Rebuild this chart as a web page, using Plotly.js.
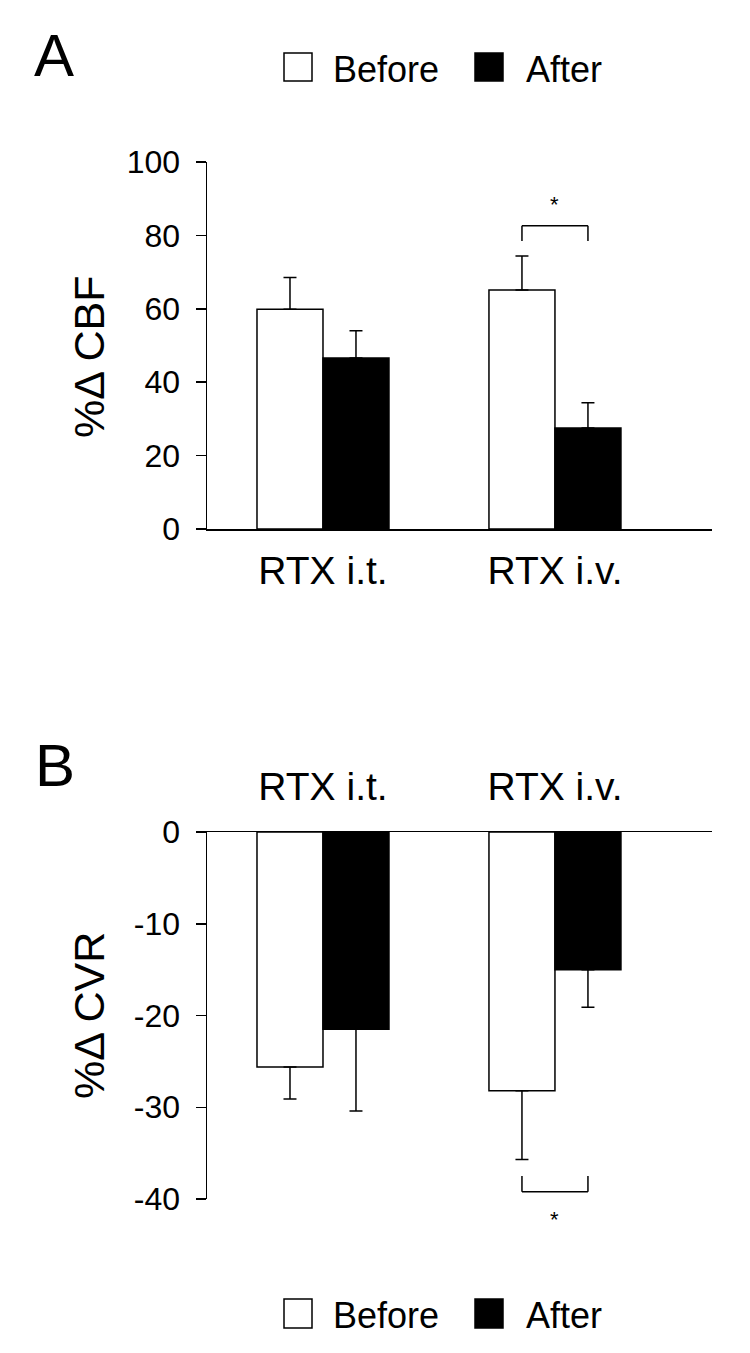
<!DOCTYPE html>
<html><head><meta charset="utf-8">
<script src="https://cdn.plot.ly/plotly-3.0.1.min.js"></script>
<style>html,body{margin:0;padding:0;background:#fff}</style>
</head><body><div id="chart" style="width:750px;height:1353px"></div>
<script>
// ---- data ----
const categories = ['RTX i.t.', 'RTX i.v.'];
const seriesNames = ['Before', 'After'];
const cbfBefore = [59.9, 65.1];
const cbfBeforeErr = [8.6, 9.3];
const cbfAfter = [46.6, 27.5];
const cbfAfterErr = [7.4, 6.9];
const cvrBefore = [-25.6, -28.2];
const cvrBeforeErr = [3.5, 7.5];
const cvrAfter = [-21.5, -15.0];
const cvrAfterErr = [8.9, 4.1];
const cbfTicks = [0, 20, 40, 60, 80, 100];
const cbfTickLabels = ['0', '20', '40', '60', '80', '100'];
const cvrTicks = [-40, -30, -20, -10, 0];
const cvrTickLabels = ['-40', '-30', '-20', '-10', '0'];
const axisTitles = ['%\u0394 CBF', '%\u0394 CVR'];
const panelLabels = ['A', 'B'];
// significance: category index, bracket levels, star level
const sigCBF = {cat: 1, line: 82.6, leg: 78.5, star: 88.3};
const sigCVR = {cat: 1, line: -39.2, leg: -37.5, star: -42.2};

// ---- layout helpers ----
const W = 750, H = 1353;
const px = x => x / W;
const py = y => 1 - y / H;
const FONT = 'Liberation Sans, Arial, Helvetica, sans-serif';
const bargap = 0.431;
const half = (1 - bargap) / 4; // offset of each bar center from category center
const zeros = categories.map(() => 0);
const xrange = [-0.5, 1.677];
const xdom = [px(207), px(712)];
const yRangeA = [0, 100], yRangeB = [-40, 0];

const barStyle = (fill) => ({color: fill, line: {color: '#000', width: 1.5}});
const errStyle = {type: 'data', symmetric: false, color: '#000', thickness: 1.5, width: 6.5};

const traces = [
  {type: 'bar', x: categories, y: cbfBefore, name: seriesNames[0], marker: barStyle('#fff'),
   error_y: Object.assign({array: cbfBeforeErr, arrayminus: zeros}, errStyle), xaxis: 'x', yaxis: 'y', showlegend: false},
  {type: 'bar', x: categories, y: cbfAfter, name: seriesNames[1], marker: barStyle('#000'),
   error_y: Object.assign({array: cbfAfterErr, arrayminus: zeros}, errStyle), xaxis: 'x', yaxis: 'y', showlegend: false},
  {type: 'bar', x: categories, y: cvrBefore, name: seriesNames[0], marker: barStyle('#fff'),
   error_y: Object.assign({array: zeros, arrayminus: cvrBeforeErr}, errStyle), xaxis: 'x2', yaxis: 'y2', showlegend: false},
  {type: 'bar', x: categories, y: cvrAfter, name: seriesNames[1], marker: barStyle('#000'),
   error_y: Object.assign({array: zeros, arrayminus: cvrAfterErr}, errStyle), xaxis: 'x2', yaxis: 'y2', showlegend: false}
];

const yCommon = {
  showline: true, linecolor: '#000', linewidth: 1.5, ticks: 'outside', ticklen: 10, tickwidth: 1.5,
  tickcolor: '#000', showgrid: false, zeroline: false, tickmode: 'array',
  tickfont: {family: FONT, size: 32, color: '#000'}, ticklabelstandoff: 9
};
const xCommon = {
  type: 'category', range: xrange, domain: xdom, showline: true, linecolor: '#000', linewidth: 1.5,
  ticks: '', showgrid: false, zeroline: false, tickfont: {family: FONT, size: 39, color: '#000'}
};

const shapes = [];
const annotations = [];
function bracket(xa, ya, s, yr) {
  const x0 = s.cat - half, x1 = s.cat + half;
  const base = {type: 'line', xref: xa, yref: ya, line: {color: '#000', width: 1.5}};
  shapes.push(Object.assign({x0: x0, x1: x1, y0: s.line, y1: s.line}, base));
  shapes.push(Object.assign({x0: x0, x1: x0, y0: s.line, y1: s.leg}, base));
  shapes.push(Object.assign({x0: x1, x1: x1, y0: s.line, y1: s.leg}, base));
  // star placed in axis-domain fraction so it can sit outside the value range
  annotations.push({xref: xa, yref: ya + ' domain', x: s.cat, y: (s.star - yr[0]) / (yr[1] - yr[0]),
    text: '*', showarrow: false, font: {family: FONT, size: 22, color: '#000'}, xanchor: 'center', yanchor: 'middle'});
}
bracket('x', 'y', sigCBF, yRangeA);
bracket('x2', 'y2', sigCVR, yRangeB);

// legends (drawn twice, top and bottom)
function legend(yTop, yBot, textY) {
  const sq = [[284, 312], [475, 503]];
  const tx = [331, 524];
  seriesNames.forEach((n, i) => {
    shapes.push({type: 'rect', xref: 'paper', yref: 'paper', x0: px(sq[i][0]), x1: px(sq[i][1]),
      y0: py(yBot), y1: py(yTop), fillcolor: i === 0 ? '#fff' : '#000', line: {color: '#000', width: 1.5}});
    annotations.push({xref: 'paper', yref: 'paper', x: px(tx[i]), y: py(textY), text: n, showarrow: false,
      xanchor: 'left', yanchor: 'middle', font: {family: FONT, size: 36, color: '#000'}});
  });
}
legend(53, 81, 69);
legend(1299, 1328, 1315);

// panel letters
annotations.push({xref: 'paper', yref: 'paper', x: px(54), y: py(55), text: panelLabels[0], showarrow: false,
  xanchor: 'center', yanchor: 'middle', font: {family: FONT, size: 60, color: '#000'}});
annotations.push({xref: 'paper', yref: 'paper', x: px(55), y: py(765), text: panelLabels[1], showarrow: false,
  xanchor: 'center', yanchor: 'middle', font: {family: FONT, size: 60, color: '#000'}});

// y-axis titles (rotated text)
annotations.push({xref: 'paper', yref: 'paper', x: px(89), y: py(357), text: axisTitles[0], textangle: -90,
  showarrow: false, xanchor: 'center', yanchor: 'middle', font: {family: FONT, size: 43, color: '#000'}});
annotations.push({xref: 'paper', yref: 'paper', x: px(89), y: py(1016), text: axisTitles[1], textangle: -90,
  showarrow: false, xanchor: 'center', yanchor: 'middle', font: {family: FONT, size: 43, color: '#000'}});

const layout = {
  width: W, height: H, margin: {l: 0, r: 0, t: 0, b: 0},
  paper_bgcolor: '#fff', plot_bgcolor: '#fff',
  barmode: 'group', bargap: bargap, bargroupgap: 0, showlegend: false,
  xaxis: Object.assign({}, xCommon, {anchor: 'y', side: 'bottom', ticklabelstandoff: 7}),
  yaxis: Object.assign({}, yCommon, {anchor: 'x', domain: [py(529), py(162)], range: yRangeA,
    tickvals: cbfTicks, ticktext: cbfTickLabels}),
  xaxis2: Object.assign({}, xCommon, {anchor: 'y2', side: 'top', ticklabelstandoff: 15}),
  yaxis2: Object.assign({}, yCommon, {anchor: 'x2', domain: [py(1199), py(832)], range: yRangeB,
    tickvals: cvrTicks, ticktext: cvrTickLabels}),
  shapes: shapes, annotations: annotations
};

Plotly.newPlot('chart', traces, layout, {staticPlot: true, displayModeBar: false});
</script></body></html>
